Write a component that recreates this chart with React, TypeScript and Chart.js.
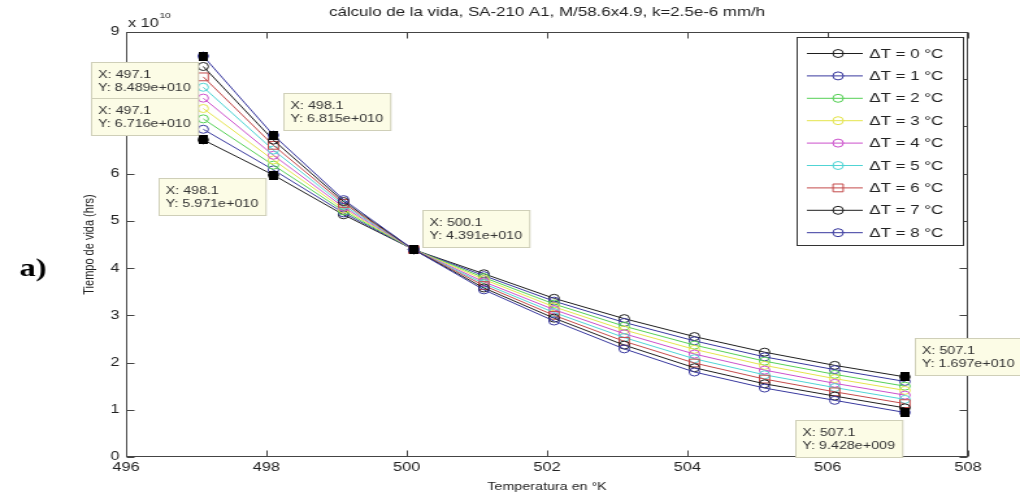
import React, { useEffect, useRef } from 'react';
import { Chart, registerables } from 'chart.js';

Chart.register(...registerables);

// ---------- data (values of the y series in units of 1e10 hours) ----------
const TEMPS = [497.1, 498.1, 499.1, 500.1, 501.1, 502.1, 503.1, 504.1, 505.1, 506.1, 507.1];

const DT0 = [6.716, 5.971, 5.13, 4.391, 3.88, 3.36, 2.93, 2.55, 2.22, 1.94, 1.697];
const DT1 = [6.94, 6.08, 5.17, 4.391, 3.84, 3.30, 2.85, 2.46, 2.12, 1.85, 1.60];
const DT2 = [7.16, 6.18, 5.21, 4.391, 3.80, 3.24, 2.77, 2.37, 2.03, 1.75, 1.50];
const DT3 = [7.38, 6.29, 5.25, 4.391, 3.76, 3.18, 2.69, 2.28, 1.94, 1.66, 1.41];
const DT4 = [7.60, 6.39, 5.29, 4.391, 3.71, 3.12, 2.61, 2.18, 1.84, 1.56, 1.31];
const DT5 = [7.83, 6.50, 5.33, 4.391, 3.67, 3.06, 2.53, 2.08, 1.74, 1.47, 1.22];
const DT6 = [8.05, 6.60, 5.37, 4.391, 3.63, 3.00, 2.45, 1.99, 1.65, 1.38, 1.13];
const DT7 = [8.27, 6.71, 5.41, 4.391, 3.58, 2.94, 2.37, 1.89, 1.55, 1.29, 1.04];
const DT8 = [8.489, 6.815, 5.45, 4.391, 3.54, 2.88, 2.29, 1.80, 1.46, 1.20, 0.9428];

const SERIES_LABELS = [
  'ΔT = 0 °C', 'ΔT = 1 °C', 'ΔT = 2 °C', 'ΔT = 3 °C', 'ΔT = 4 °C',
  'ΔT = 5 °C', 'ΔT = 6 °C', 'ΔT = 7 °C', 'ΔT = 8 °C',
];

const X_TICKS = [496, 498, 500, 502, 504, 506, 508];
const Y_TICKS = [0, 1, 2, 3, 4, 5, 6, 7, 8, 9];
const Y_EXPONENT = 10;

const TITLE = 'cálculo de la vida, SA-210 A1, M/58.6x4.9, k=2.5e-6 mm/h';
const X_LABEL = 'Temperatura en °K';
const Y_LABEL = 'Tiempo de vida (hrs)';
const PANEL_LABEL = 'a)';

// data tips: which series / which point
const DATATIP_SERIES = [8, 0, 8, 0, 8, 0, 8];
const DATATIP_POINTS = [0, 0, 1, 1, 3, 10, 10];

// ---------- styles ----------
const SERIES = [DT0, DT1, DT2, DT3, DT4, DT5, DT6, DT7, DT8];
const SERIES_COLORS = [
  '#1e1e1e', '#38389e', '#55d055', '#e4e44c', '#cc50cc',
  '#50d4d4', '#c44a4a', '#1e1e1e', '#38389e',
];
const MARKERS = ['circle', 'circle', 'circle', 'circle', 'circle', 'circle', 'rect', 'circle', 'circle'];

// placement of data tip boxes relative to their point
const DATATIP_PLACE = [
  { h: 'left', v: 'below', gx: 4, gy: 6 },
  { h: 'left', v: 'above', gx: 4, gy: 5 },
  { h: 'right', v: 'above', gx: 8, gy: 5 },
  { h: 'left', v: 'below', gx: 6, gy: 3 },
  { h: 'right', v: 'above', gx: 7, gy: 3 },
  { h: 'right', v: 'above', gx: 7.5, gy: 2 },
  { h: 'left', v: 'below', gx: 2.5, gy: 7.5 },
];

const CANVAS_W = 785;
const CANVAS_H = 495;
const DISPLAY_W = 1020;
const FONT = '"Liberation Sans", Arial, Helvetica, sans-serif';
const TEXT_COLOR = '#222';
const AXIS_COLOR = '#444';

function fmtMatlab(v: number): string {
  const s = (v * Math.pow(10, Y_EXPONENT)).toExponential(3);
  const [m, e] = s.split('e');
  const sign = e[0] === '-' ? '-' : '+';
  const digits = e.replace(/[+-]/, '').padStart(3, '0');
  return `${m}e${sign}${digits}`;
}

const overlay = {
  id: 'matlabOverlay',
  afterDraw(chart: any) {
    const { ctx, chartArea: a, scales } = chart;
    const xs = scales.x;
    const ys = scales.y;
    ctx.save();

    // axes box
    const L = Math.round(a.left) + 0.5;
    const R = Math.round(a.right) - 0.5;
    const T = Math.round(a.top) + 0.5;
    const B = Math.round(a.bottom) - 0.5;
    ctx.strokeStyle = AXIS_COLOR;
    ctx.lineWidth = 1;
    ctx.strokeRect(L, T, R - L, B - T);

    // inside tick marks
    const TL = 6;
    ctx.beginPath();
    X_TICKS.forEach((v) => {
      const px = Math.round(xs.getPixelForValue(v)) + 0.5;
      ctx.moveTo(px, B); ctx.lineTo(px, B - TL);
      ctx.moveTo(px, T); ctx.lineTo(px, T + TL);
    });
    Y_TICKS.forEach((v) => {
      const py = Math.round(ys.getPixelForValue(v)) + 0.5;
      ctx.moveTo(L, py); ctx.lineTo(L + TL, py);
      ctx.moveTo(R, py); ctx.lineTo(R - TL, py);
    });
    ctx.stroke();

    // exponent label
    ctx.fillStyle = TEXT_COLOR;
    ctx.textBaseline = 'alphabetic';
    ctx.textAlign = 'left';
    ctx.font = `12.5px ${FONT}`;
    const base = 'x 10';
    ctx.fillText(base, a.left + 1.5, a.top - 5);
    const bw = ctx.measureText(base).width;
    ctx.font = `8px ${FONT}`;
    ctx.fillText(String(Y_EXPONENT), a.left + 1.5 + bw + 0.5, a.top - 14);

    // title
    ctx.font = `13px ${FONT}`;
    ctx.textAlign = 'center';
    ctx.textBaseline = 'middle';
    ctx.fillText(TITLE, (a.left + a.right) / 2, 12);

    // panel label
    ctx.fillStyle = '#000';
    ctx.font = `bold 25px "Liberation Serif", "Times New Roman", serif`;
    ctx.textAlign = 'left';
    ctx.fillText(PANEL_LABEL, 15, 270);

    // legend
    const lgW = 128;
    const lgH = 208;
    const lgX = Math.round(a.right - 4.5 - lgW) + 0.5;
    const lgY = Math.round(a.top + 5) + 0.5;
    ctx.fillStyle = '#fff';
    ctx.fillRect(lgX, lgY, lgW, lgH);
    ctx.strokeStyle = '#333';
    ctx.lineWidth = 1;
    ctx.strokeRect(lgX, lgY, lgW, lgH);
    ctx.font = `13px ${FONT}`;
    ctx.textBaseline = 'middle';
    SERIES_LABELS.forEach((lab, i) => {
      const cy = lgY + 16 + i * 22.4;
      const col = SERIES_COLORS[i];
      ctx.strokeStyle = col;
      ctx.lineWidth = 1;
      ctx.beginPath();
      ctx.moveTo(lgX + 7.5, cy);
      ctx.lineTo(lgX + 50.5, cy);
      ctx.stroke();
      const mx = lgX + 31.5;
      ctx.beginPath();
      if (MARKERS[i] === 'rect') {
        ctx.rect(mx - 3.9, cy - 3.9, 7.8, 7.8);
      } else {
        ctx.arc(mx, cy, 4, 0, Math.PI * 2);
      }
      ctx.stroke();
      ctx.fillStyle = TEXT_COLOR;
      ctx.fillText(lab, lgX + 55.5, cy + 0.5);
    });

    // data tip markers
    ctx.fillStyle = '#000';
    DATATIP_SERIES.forEach((s, k) => {
      const j = DATATIP_POINTS[k];
      const px = xs.getPixelForValue(TEMPS[j]);
      const py = ys.getPixelForValue(SERIES[s][j]);
      ctx.fillRect(Math.round(px - 3.5), Math.round(py - 4.5), 7, 9);
    });

    // data tip boxes
    ctx.font = `11px ${FONT}`;
    ctx.textAlign = 'left';
    ctx.textBaseline = 'middle';
    DATATIP_SERIES.forEach((s, k) => {
      const j = DATATIP_POINTS[k];
      const px = xs.getPixelForValue(TEMPS[j]);
      const py = ys.getPixelForValue(SERIES[s][j]);
      const l1 = `X: ${TEMPS[j].toFixed(1)}`;
      const l2 = `Y: ${fmtMatlab(SERIES[s][j])}`;
      const w = Math.max(ctx.measureText(l1).width, ctx.measureText(l2).width) + 11;
      const h = 37;
      const p = DATATIP_PLACE[k];
      const bx = p.h === 'right' ? px + p.gx : px - p.gx - w;
      const by = p.v === 'below' ? py + p.gy : py - p.gy - h;
      const rx = Math.round(bx) + 0.5;
      const ry = Math.round(by) + 0.5;
      ctx.fillStyle = '#fcfce6';
      ctx.fillRect(rx, ry, w, h);
      ctx.strokeStyle = '#cfcfb8';
      ctx.strokeRect(rx, ry, w, h);
      ctx.fillStyle = '#333';
      ctx.fillText(l1, rx + 5, ry + 12);
      ctx.fillText(l2, rx + 5, ry + 25);
    });

    ctx.restore();
  },
};

export default function App() {
  const ref = useRef<HTMLCanvasElement>(null);

  useEffect(() => {
    document.body.style.margin = '0';
    const canvas = ref.current;
    if (!canvas) return;
    const datasets = SERIES.map((vals, i) => ({
      label: SERIES_LABELS[i],
      data: TEMPS.map((t, j) => ({ x: t, y: vals[j] })),
      borderColor: SERIES_COLORS[i],
      backgroundColor: 'rgba(0,0,0,0)',
      pointBorderColor: SERIES_COLORS[i],
      pointBackgroundColor: 'rgba(0,0,0,0)',
      borderWidth: 1,
      pointBorderWidth: 1,
      pointRadius: MARKERS[i] === 'rect' ? 5.5 : 4,
      pointStyle: MARKERS[i],
      tension: 0,
      fill: false,
      order: SERIES.length - i,
    }));

    const chart = new Chart(canvas, {
      type: 'line',
      data: { datasets } as any,
      options: {
        responsive: false,
        animation: false,
        devicePixelRatio: 1,
        layout: { padding: { left: 0, top: 32, right: 40, bottom: 0 } },
        plugins: {
          legend: { display: false },
          tooltip: { enabled: false },
          title: { display: false },
        },
        scales: {
          x: {
            type: 'linear',
            min: X_TICKS[0],
            max: X_TICKS[X_TICKS.length - 1],
            afterFit: (s: any) => { s.height = 38; },
            afterBuildTicks: (s: any) => { s.ticks = X_TICKS.map((v) => ({ value: v })); },
            grid: { display: false, drawTicks: false },
            border: { display: false },
            ticks: {
              padding: 3,
              color: TEXT_COLOR,
              font: { family: FONT, size: 12.5 },
              maxRotation: 0,
              autoSkip: false,
              callback: (v: any) => String(v),
            },
            title: {
              display: true,
              text: X_LABEL,
              color: TEXT_COLOR,
              font: { family: FONT, size: 11 },
              padding: { top: 0, bottom: 1 },
            },
          },
          y: {
            type: 'linear',
            min: Y_TICKS[0],
            max: Y_TICKS[Y_TICKS.length - 1],
            afterFit: (s: any) => { s.width = 97; },
            afterBuildTicks: (s: any) => { s.ticks = Y_TICKS.map((v) => ({ value: v })); },
            grid: { display: false, drawTicks: false },
            border: { display: false },
            ticks: {
              padding: 5,
              color: TEXT_COLOR,
              font: { family: FONT, size: 12.5 },
              autoSkip: false,
              callback: (v: any) => String(v),
            },
            title: {
              display: true,
              text: Y_LABEL,
              color: TEXT_COLOR,
              font: { family: FONT, size: 11 },
              padding: { top: 62, bottom: 0 },
            },
          },
        },
      } as any,
      plugins: [overlay],
    });

    return () => chart.destroy();
  }, []);

  return (
    <canvas
      ref={ref}
      width={CANVAS_W}
      height={CANVAS_H}
      style={{ display: 'block', width: `${DISPLAY_W}px`, height: `${CANVAS_H}px` }}
    />
  );
}
